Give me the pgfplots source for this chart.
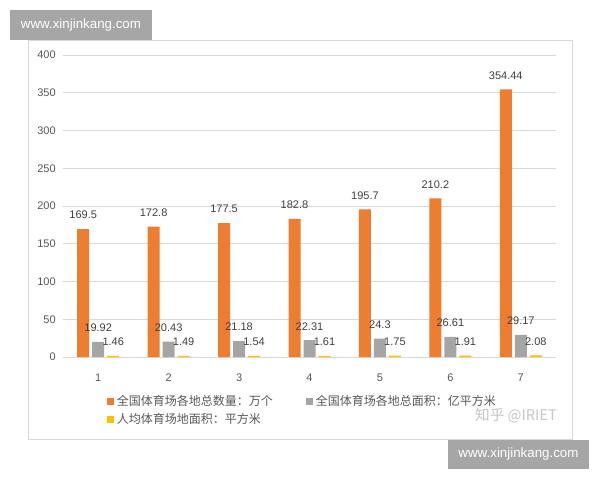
\documentclass[border=0pt]{standalone}
\usepackage{fontspec}
\setmainfont{Liberation Sans}
\newfontfamily\cjk{Noto Sans CJK SC}
\usepackage{pgfplots}
\pgfplotsset{compat=1.18}
\definecolor{cOr}{HTML}{ED7D31}
\definecolor{cGr}{HTML}{A5A5A5}
\definecolor{cYe}{HTML}{FFC000}
\definecolor{cGrid}{HTML}{D9D9D9}
\definecolor{cTxt}{HTML}{595959}
\definecolor{cWm}{HTML}{A6A6A6}
\begin{document}
\begin{tikzpicture}[x=0.75pt,y=-0.75pt]
\fill[white] (0,0) rectangle (600,480);
\draw[cGrid, line width=0.75pt] (28,40) rectangle (572,439);
\begin{axis}[at={(47.25pt,-267.75pt)}, anchor=south west, scale only axis,
  width=369.75pt, height=226.5pt,
  xmin=0.5, xmax=7.5, ymin=0, ymax=400,
  ytick={0,50,...,400}, xtick={1,...,7},
  axis line style={draw=none}, major tick style={draw=none},
  ymajorgrids, grid style={cGrid, line width=0.75pt},
  tick label style={font=\fontsize{8.25}{10}\selectfont, text=cTxt},
  /pgf/number format/assume math mode=true,
  yticklabel style={xshift=-2pt},
  xticklabel style={yshift=-5pt},
  ybar=2.25pt, bar width=9pt,
  nodes near coords,
  nodes near coords style={font=\fontsize{8.25}{10}\selectfont, text=black!75, yshift=4pt},
  legend image code/.code={\fill[#1] (0pt,-2.6pt) rectangle (5.25pt,2.6pt);},
  legend columns=2, legend cell align=left,
  legend style={at={(0.081,-0.109)}, anchor=north west, draw=none, fill=none,
    font=\cjk\fontsize{9}{11}\selectfont, text=cTxt, row sep=0.5pt,
    /tikz/every even column/.append style={column sep=23pt}},
  clip=false,
]
\addplot[fill=cOr, draw=none] coordinates {(1,169.5) (2,172.8) (3,177.5) (4,182.8) (5,195.7) (6,210.2) (7,354.44)};
\addlegendentry{全国体育场各地总数量：万个}
\addplot[fill=cGr, draw=none] coordinates {(1,19.92) (2,20.43) (3,21.18) (4,22.31) (5,24.3) (6,26.61) (7,29.17)};
\addlegendentry{全国体育场各地总面积：亿平方米}
\addplot[fill=cYe, draw=none] coordinates {(1,1.46) (2,1.49) (3,1.54) (4,1.61) (5,1.75) (6,1.91) (7,2.08)};
\addlegendentry{人均体育场地面积：平方米}
\end{axis}
\node[text=gray!45, font=\cjk\fontsize{11}{13}\selectfont] at (516,416) {知乎 @IRIET};
\fill[cWm] (10,10) rectangle (152,40);
\node[text=white, font=\fontsize{10}{12}\selectfont] at (81,25) {www.xinjinkang.com};
\fill[cWm] (448,440) rectangle (589,469);
\node[text=white, font=\fontsize{10}{12}\selectfont] at (518.5,454.5) {www.xinjinkang.com};
\end{tikzpicture}
\end{document}
